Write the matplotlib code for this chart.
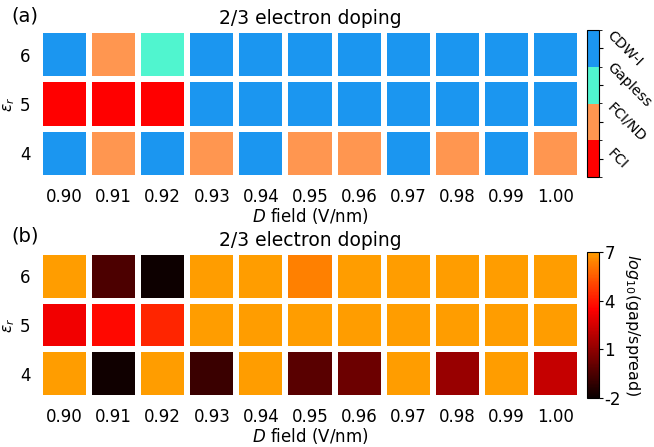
import numpy as np
import matplotlib
matplotlib.use("Agg")
import matplotlib.pyplot as plt
from matplotlib.colors import ListedColormap, BoundaryNorm, LinearSegmentedColormap, Normalize

plt.rcParams["axes.unicode_minus"] = False

# D field values (V/nm) and dielectric constants
d_field = ["0.90", "0.91", "0.92", "0.93", "0.94", "0.95", "0.96", "0.97", "0.98", "0.99", "1.00"]
eps_r = ["4", "5", "6"]

# Phase labels (colorbar order, bottom to top)
phase_names = ["FCI", "FCI/ND", "Gapless", "CDW-I"]
phase_colors = ["#ff0000", "#ff9650", "#50f5cf", "#1b96f0"]

# Phase index per (eps_r, D) cell: 0=FCI, 1=FCI/ND, 2=Gapless, 3=CDW-I
phase_eps4 = [3, 1, 3, 1, 3, 1, 1, 3, 1, 3, 1]
phase_eps5 = [0, 0, 0, 3, 3, 3, 3, 3, 3, 3, 3]
phase_eps6 = [3, 1, 2, 3, 3, 3, 3, 3, 3, 3, 3]

# log10(gap/spread) per cell (values above 7 saturate the colour scale)
gap_eps4 = [7.0, -1.85, 7.0, -0.94, 7.0, -0.22, 0.22, 7.0, 1.2, 7.0, 2.16]
gap_eps5 = [3.2, 3.65, 4.3, 7.0, 7.0, 7.0, 7.0, 7.0, 7.0, 7.0, 7.0]
gap_eps6 = [7.0, -0.47, -1.9, 7.0, 7.0, 6.3, 7.0, 7.0, 7.0, 7.0, 7.0]
gap_ticks = [-2, 1, 4, 7]

W, H = 654, 447
fig = plt.figure(figsize=(W / 100, H / 100), dpi=100)

def box(x0, y0, x1, y1):
    return [x0 / W, 1 - y1 / H, (x1 - x0) / W, (y1 - y0) / H]

ax_a = fig.add_axes(box(40, 30, 580, 178))
cax_a = fig.add_axes(box(587, 30, 599, 177))
ax_b = fig.add_axes(box(40, 252, 580, 398))
cax_b = fig.add_axes(box(587, 252, 599, 398))

phase = np.array([phase_eps4, phase_eps5, phase_eps6])
gap = np.array([gap_eps4, gap_eps5, gap_eps6])

cmap_a = ListedColormap(phase_colors)
norm_a = BoundaryNorm(np.arange(-0.5, 4.5, 1), cmap_a.N)

hot = plt.get_cmap("hot")
cmap_b = LinearSegmentedColormap.from_list("hot_part", hot(np.linspace(0, 0.6, 256)))
norm_b = Normalize(vmin=-2, vmax=7)

def style(ax):
    for s in ax.spines.values():
        s.set_visible(False)
    ax.set_xticks(np.arange(len(d_field)) + 0.5)
    ax.set_xticklabels(d_field, fontsize=12)
    ax.set_yticks(np.arange(len(eps_r)) + 0.5)
    ax.set_yticklabels(eps_r, fontsize=12)
    ax.tick_params(length=0, pad=7)
    ax.set_xlabel("$D$ field (V/nm)", fontsize=12, labelpad=0)
    ax.set_ylabel(r"$\varepsilon_r$", fontsize=11, labelpad=2)
    ax.set_title("2/3 electron doping", fontsize=13.5, pad=4)
    ax.set_xlim(0, len(d_field))
    ax.set_ylim(0, len(eps_r))

m_a = ax_a.pcolormesh(phase, cmap=cmap_a, norm=norm_a, edgecolors="white", linewidth=3)
style(ax_a)
cb_a = fig.colorbar(m_a, cax=cax_a, ticks=[0, 1, 2, 3])
cb_a.ax.set_yticklabels(phase_names, rotation=-45, fontsize=10.3, ha="left", va="center")
cb_a.ax.tick_params(length=3, pad=1)

m_b = ax_b.pcolormesh(gap, cmap=cmap_b, norm=norm_b, edgecolors="white", linewidth=3)
style(ax_b)
cb_b = fig.colorbar(m_b, cax=cax_b, ticks=gap_ticks)
cb_b.ax.tick_params(labelsize=12, length=3, pad=1)
cb_b.set_label("$log_{10}$(gap/spread)", rotation=270, fontsize=11.5, labelpad=15)

fig.text(11 / W, 1 - 16 / H, "(a)", fontsize=14, va="center")
fig.text(11 / W, 1 - 236 / H, "(b)", fontsize=14, va="center")

fig.savefig("out.png", dpi=100)
